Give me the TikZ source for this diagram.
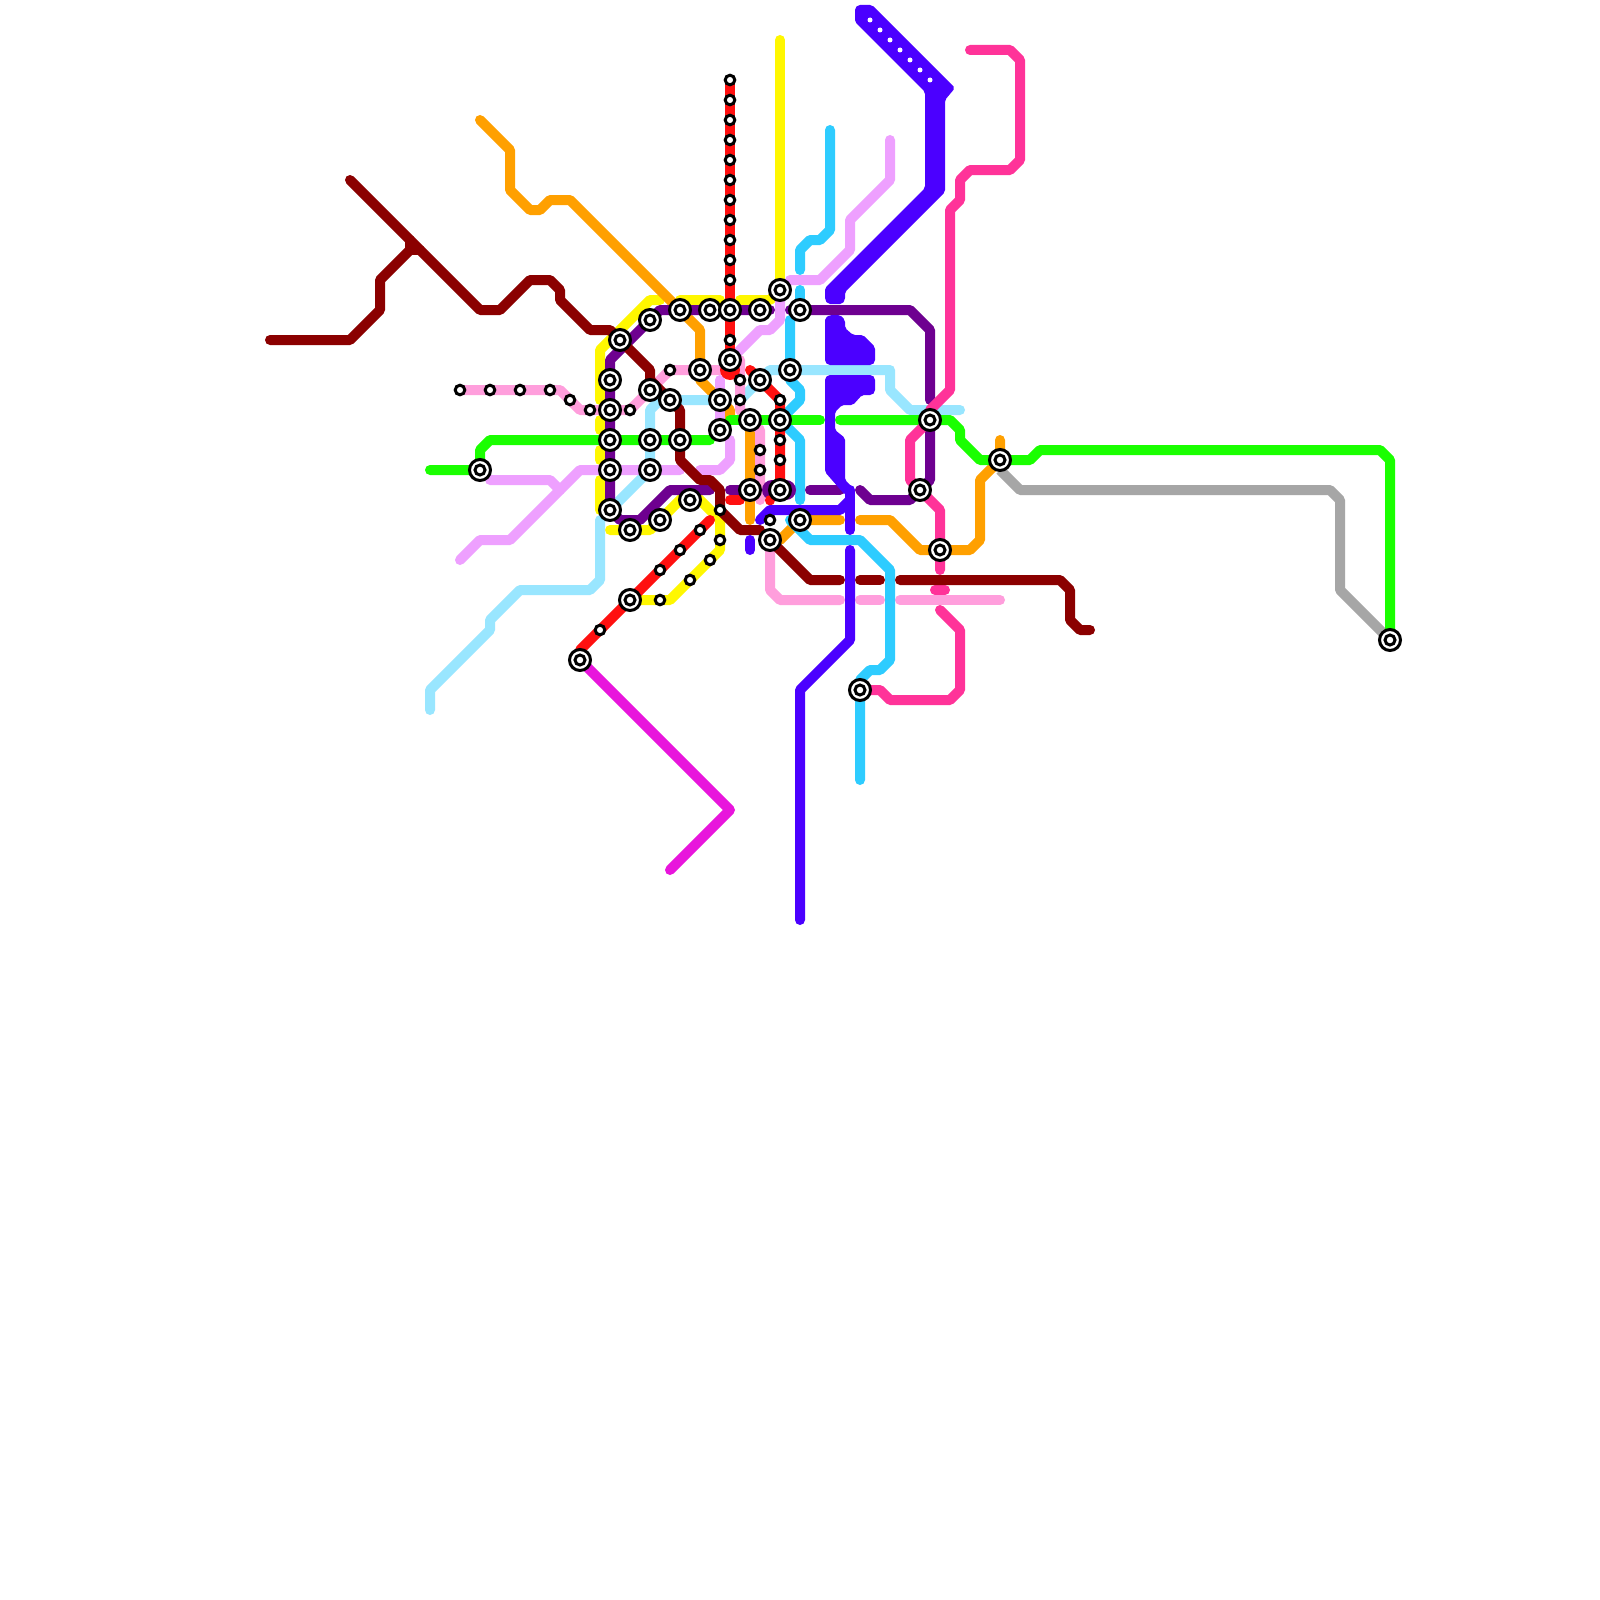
\documentclass[tikz,border=0pt]{standalone}
\definecolor{cYel}{HTML}{FFF700}
\definecolor{cOra}{HTML}{FFA000}
\definecolor{cLbl}{HTML}{99E6FF}
\definecolor{cPnk}{HTML}{FF9EDC}
\definecolor{cLil}{HTML}{EEA0FF}
\definecolor{cCya}{HTML}{2ECCFF}
\definecolor{cGry}{HTML}{A6A6A6}
\definecolor{cGrn}{HTML}{1AFF00}
\definecolor{cHot}{HTML}{FF3399}
\definecolor{cPur}{HTML}{6E0090}
\definecolor{cDrd}{HTML}{8B0000}
\definecolor{cRed}{HTML}{FF1010}
\definecolor{cBlu}{HTML}{4B00FF}
\definecolor{cMag}{HTML}{E815DC}
\tikzset{
  route/.style={line width=10pt,line cap=round,line join=round},
  bigst/.style={circle,draw=black,fill=white,line width=3pt,minimum size=21pt,inner sep=0pt,outer sep=0pt,
    path picture={\draw[black,line width=3pt] (path picture bounding box.center) circle (5pt);}},
  smallst/.style={circle,draw=black,fill=white,line width=3pt,minimum size=9.6pt,inner sep=0pt,outer sep=0pt},
  whitedot/.style={circle,fill=white,minimum size=5pt,inner sep=0pt,outer sep=0pt},
  blob/.style={fill=cBlu,rounded corners=2pt}
}
\begin{document}
\begin{tikzpicture}[x=1pt,y=-1pt]
\useasboundingbox (0,0) rectangle (1600,1600);
\fill[white] (0,0) rectangle (1600,1600);
% yellow
\draw[route,cYel] (780,40)--(780,280);
\draw[route,cYel] (600,400)--(600,350)--(650,300)--(660,300);
\draw[route,cYel] (680,300)--(720,300);
\draw[route,cYel] (740,300)--(770,300)--(780,290);
\draw[route,cYel] (600,420)--(600,430);
\draw[route,cYel] (600,450)--(600,460);
\draw[route,cYel] (600,480)--(600,510);
\draw[route,cYel] (610,530)--(650,530)--(690,490)--(720,520)--(720,550)--(670,600)--(630,600);
% orange
\draw[route,cOra] (480,120)--(510,150)--(510,190)--(530,210)--(540,210)--(550,200)--(570,200)--(700,330)--(700,380)--(730,410)--(730,420);
\draw[route,cOra] (750,420)--(750,520);
\draw[route,cOra] (780,540)--(800,520)--(840,520);
\draw[route,cOra] (860,520)--(890,520)--(920,550)--(970,550)--(980,540)--(980,480)--(1000,460)--(1000,440);
% light blue
\draw[route,cLbl] (430,710)--(430,690)--(490,630)--(490,620)--(520,590)--(590,590)--(600,580)--(600,520);
\draw[route,cLbl] (610,510)--(650,470)--(650,410)--(660,400)--(720,400);
\draw[route,cLbl] (740,400)--(770,370)--(890,370)--(890,390)--(910,410)--(960,410);
% pale pink
\draw[route,cPnk] (460,390)--(560,390)--(580,410)--(630,410)--(670,370)--(730,370);
\draw[route,cPnk] (740,360)--(740,410)--(760,430)--(760,500);
\draw[route,cPnk] (770,540)--(770,590)--(780,600)--(840,600);
\draw[route,cPnk] (860,600)--(880,600);
\draw[route,cPnk] (900,600)--(1000,600);
% lilac
\draw[route,cLil] (890,140)--(890,180)--(850,220)--(850,250)--(820,280)--(790,280);
\draw[route,cLil] (780,300)--(780,320)--(770,330)--(760,330)--(730,360);
\draw[route,cLil] (720,380)--(720,430);
\draw[route,cLil] (700,470)--(720,470)--(730,460)--(730,440);
\draw[route,cLil] (490,480)--(550,480)--(560,490);
\draw[route,cLil] (460,560)--(480,540)--(510,540)--(580,470)--(680,470);
% cyan
\draw[route,cCya] (830,130)--(830,230)--(820,240)--(810,240)--(800,250)--(800,270);
\draw[route,cCya] (800,290)--(800,300);
\draw[route,cCya] (790,320)--(790,380)--(800,390)--(800,400)--(780,420)--(800,440)--(800,500);
\draw[route,cCya] (790,520)--(810,540)--(860,540)--(890,570)--(890,660)--(880,670)--(870,670)--(860,680)--(860,780);
% gray
\draw[route,cGry,line cap=butt] (1000,470)--(1020,490)--(1330,490)--(1340,500)--(1340,590)--(1390,640);
% green
\draw[route,cGrn] (430,470)--(480,470)--(480,450)--(490,440)--(710,440);
\draw[route,cGrn] (730,420)--(820,420);
\draw[route,cGrn] (840,420)--(950,420)--(960,430)--(960,440)--(980,460)--(1030,460)--(1040,450)--(1380,450)--(1390,460)--(1390,640);
% purple
\draw[route,cPur] (610,510)--(610,360)--(660,310)--(770,310);
\draw[route,cPur] (610,510)--(620,520)--(640,520)--(670,490)--(710,490);
\draw[route,cPur] (730,490)--(745,490);
\draw[route,cPur,line width=20pt] (772,490)--(786,490);
\draw[route,cPur] (810,490)--(840,490);
\draw[route,cPur] (860,490)--(870,500)--(910,500)--(920,490)--(930,480)--(930,420);
\draw[route,cPur] (790,310)--(910,310)--(930,330)--(930,400);
% hot pink
\draw[route,cHot] (970,50)--(1010,50)--(1020,60)--(1020,160)--(1010,170)--(970,170)--(960,180)--(960,200)--(950,210)--(950,390)--(930,410)--(930,420)--(910,440)--(910,480)--(940,510)--(940,570);
\draw[route,cHot] (935,590)--(945,590);
\draw[route,cHot] (940,610)--(960,630)--(960,690)--(950,700)--(890,700)--(880,690)--(860,690);
% dark red
\draw[route,cDrd] (350,180)--(480,310)--(500,310)--(530,280)--(550,280)--(560,290)--(560,300)--(590,330)--(610,330)--(650,370)--(650,380)--(680,410)--(680,460)--(700,480)--(710,480)--(720,490)--(720,510)--(740,530)--(760,530);
\draw[route,cDrd] (270,340)--(350,340)--(380,310)--(380,280)--(410,250)--(410,240);
\draw[route,cDrd] (410,250)--(420,250);
\draw[route,cDrd] (770,540)--(810,580)--(840,580);
\draw[route,cDrd] (860,580)--(880,580);
\draw[route,cDrd] (900,580)--(1060,580)--(1070,590)--(1070,620)--(1080,630)--(1090,630);
% red
\draw[route,cRed] (730,80)--(730,365);
\fill[cRed] (730,370) circle (10pt);
\draw[route,cRed] (750,370)--(780,400)--(780,490);
\draw[route,cRed] (730,500)--(740,500);
\draw[route,cRed] (770,500)--(770,500.5);
\draw[route,cRed] (710,520)--(580,650);
% magenta
\draw[route,cMag] (580,660)--(730,810)--(670,870);
% blue
\fill[blob] (855,8)--(858,5)--(872,5)--(955,88)--(945,100)--(945,192)--(845,292)--(845,300)--(842,304)--(828,304)--(825,300)--(825,288)--(925,188)--(925,92)--(855,22)--cycle;
\fill[blob] (825,318)--(830,315)--(840,315)--(845,320)--(845,328)--(853,335)--(863,335)--(875,347)--(875,362)--(872,365)--(828,365)--(825,362)--cycle;
\fill[blob] (825,378)--(828,375)--(872,375)--(875,378)--(875,392)--(872,395)--(862,395)--(853,405)--(842,405)--(835,412)--(835,430)--(845,438)--(845,480)--(855,490)--(845,495)--(825,472)--cycle;
\draw[route,cBlu] (850,490)--(850,530);
\draw[route,cBlu] (760,520)--(770,510)--(840,510)--(850,500);
\draw[route,cBlu] (850,550)--(850,640)--(800,690)--(800,920);
\draw[route,cBlu] (750,540)--(750,550);
% white dots on the blue band
\foreach \n/\x/\y in {1/870/20,2/880/30,3/890/40,4/900/50,5/910/60,6/920/70,7/930/80}
  \node[whitedot] (w\n) at (\x,\y) {};
% small stations
\foreach \n/\x/\y in {1/730/80,2/730/100,3/730/120,4/730/140,5/730/160,6/730/180,7/730/200,8/730/220,9/730/240,10/730/260,11/730/280,12/730/340,
 13/670/370,14/740/380,15/740/400,16/630/410,17/460/390,18/490/390,19/520/390,20/550/390,21/570/400,22/590/410,
 23/760/450,24/760/470,25/780/400,26/780/440,27/780/460,28/720/510,29/720/540,30/700/530,31/680/550,32/660/570,
 33/600/630,34/710/560,35/690/580,36/660/600,37/770/520}
  \node[smallst] (p\n) at (\x,\y) {};
% big stations
\foreach \n/\x/\y in {1/620/340,2/650/320,3/680/310,4/710/310,5/730/310,6/760/310,7/780/290,8/800/310,9/730/360,10/700/370,
 11/760/380,12/790/370,13/610/380,14/650/390,15/670/400,16/720/400,17/610/410,18/750/420,19/780/420,20/610/440,21/650/440,
 22/680/440,23/720/430,24/610/470,25/650/470,26/750/490,27/780/490,28/690/500,29/610/510,30/660/520,31/630/530,32/800/520,
 33/770/540,34/630/600,35/580/660,36/860/690,37/930/420,38/920/490,39/940/550,40/1000/460,41/1390/640,42/480/470}
  \node[bigst] (s\n) at (\x,\y) {};
\end{tikzpicture}
\end{document}
